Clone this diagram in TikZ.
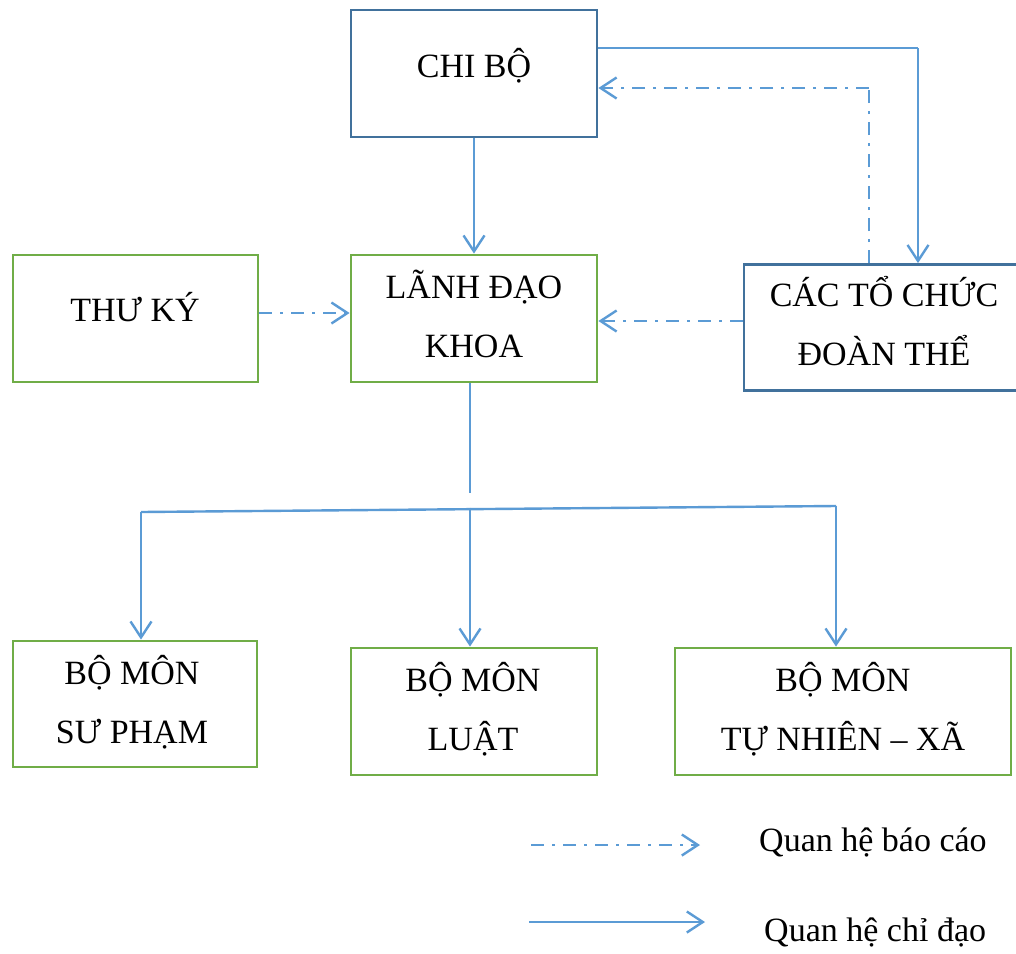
\documentclass[tikz,border=0pt]{standalone}
\usepackage{fontspec}
\setmainfont{Liberation Serif}
\usetikzlibrary{arrows.meta}
\definecolor{arrblue}{HTML}{5B9BD5}
\definecolor{boxblue}{HTML}{41719C}
\definecolor{boxgreen}{HTML}{70AD47}
\tikzset{
  bluebox/.style={draw=boxblue, line width=2.8pt, inner sep=0pt, fill=white},
  greenbox/.style={draw=boxgreen, line width=2.8pt, inner sep=0pt, fill=white},
  lbl/.style={anchor=base, inner sep=0pt, font=\fontsize{34}{59.5}\selectfont},
  lgd/.style={anchor=base west, inner sep=0pt, font=\fontsize{34}{40}\selectfont},
  tipv/.style={-{Straight Barb[length=16pt,width=21pt,line width=2.4pt]}},
  ctrl/.style={draw=arrblue, line width=2.4pt},
  ctrlthin/.style={draw=arrblue, line width=1.5pt},
  rep/.style={draw=arrblue, line width=2.6pt, dash pattern=on 13pt off 8pt on 3pt off 8pt},
  repthin/.style={draw=arrblue, line width=1.2pt, dash pattern=on 13pt off 8pt on 3pt off 8pt},
}
\begin{document}
\begin{tikzpicture}[x=1pt,y=-1pt]
\clip (0,0) rectangle (1016,953);
\fill[white] (0,0) rectangle (1016,953);

% boxes
\node[bluebox, minimum width=246pt, minimum height=127pt] (chibo) at (474,73.5) {};
\node[greenbox, minimum width=245pt, minimum height=127pt] (thuky) at (135.5,318.5) {};
\node[greenbox, minimum width=246pt, minimum height=127pt] (lanhdao) at (474,318.5) {};
\node[bluebox, minimum width=290pt, minimum height=126pt] (cac) at (889,327.5) {};
\node[greenbox, minimum width=244pt, minimum height=126pt] (supham) at (135,704) {};
\node[greenbox, minimum width=246pt, minimum height=127pt] (luat) at (474,711.5) {};
\node[greenbox, minimum width=336pt, minimum height=127pt] (tunhien) at (843,711.5) {};

% texts
\node[lbl] (chibo-t) at (474,77) {CHI BỘ};
\node[lbl] (thuky-t) at (135,321) {THƯ KÝ};
\node[lbl] (lanhdao-t) at (474,298) {\begin{tabular}[t]{@{}c@{}}LÃNH ĐẠO\\KHOA\end{tabular}};
\node[lbl] (cac-t) at (884,306) {\begin{tabular}[t]{@{}c@{}}CÁC TỔ CHỨC\\ĐOÀN THỂ\end{tabular}};
\node[lbl] (supham-t) at (132,684) {\begin{tabular}[t]{@{}c@{}}BỘ MÔN\\SƯ PHẠM\end{tabular}};
\node[lbl] (luat-t) at (473,691) {\begin{tabular}[t]{@{}c@{}}BỘ MÔN\\LUẬT\end{tabular}};
\node[lbl] (tunhien-t) at (843,691) {\begin{tabular}[t]{@{}c@{}}BỘ MÔN\\TỰ NHIÊN – XÃ\end{tabular}};

% CHI BO -> CAC TO CHUC (chi dao)
\coordinate (c1) at (918,48);
\draw[ctrlthin] (chibo.east |- c1) -- (c1);
\draw[ctrl, tipv] (c1) -- (c1 |- cac.north);

% CAC TO CHUC -> CHI BO (bao cao)
\coordinate (r1) at (869,88);
\draw[repthin] (r1 |- cac.north) -- (r1);
\draw[rep, tipv] (r1) -- (chibo.east |- r1);

% CHI BO -> LANH DAO
\draw[ctrl, tipv] (chibo.south) -- (lanhdao.north);

% THU KY -> LANH DAO
\coordinate (r2) at (0,313);
\draw[rep, tipv] (thuky.east |- r2) -- (lanhdao.west |- r2);

% CAC TO CHUC -> LANH DAO
\coordinate (r3) at (0,321);
\draw[rep, tipv] (cac.west |- r3) -- (lanhdao.east |- r3);

% LANH DAO -> bo mon
\coordinate (v0) at (470,493);
\draw[draw=arrblue, line width=1.2pt] (lanhdao.south -| v0) -- (v0);
\coordinate (hl) at (141,512);
\coordinate (hm) at (470,507.5);
\coordinate (hr) at (836,506);
\draw[ctrl] (hl) -- (hr);
\draw[ctrl, tipv] (hl) -- (hl |- supham.north);
\draw[ctrl, tipv] (hm) -- (hm |- luat.north);
\draw[ctrl, tipv] (hr) -- (hr |- tunhien.north);

% legend
\coordinate (la1) at (531,845);
\coordinate (lb1) at (700,845);
\draw[rep, tipv] (la1) -- (lb1);
\node[lgd] (lg1) at (759,851) {Quan hệ báo cáo};
\coordinate (la2) at (529,922);
\coordinate (lb2) at (705,922);
\draw[ctrl, tipv] (la2) -- (lb2);
\node[lgd] (lg2) at (764,941) {Quan hệ chỉ đạo};
\end{tikzpicture}
\end{document}
